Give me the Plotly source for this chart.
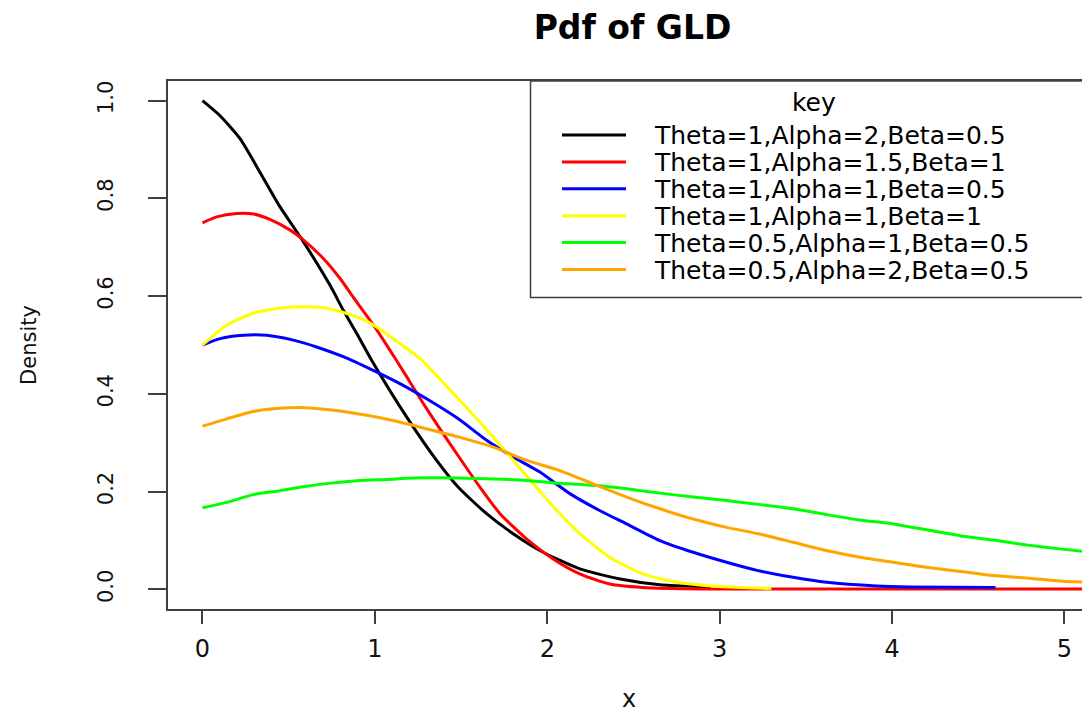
import plotly.graph_objects as go

# ---------------- data ----------------
series_names = [
    "Theta=1,Alpha=2,Beta=0.5",
    "Theta=1,Alpha=1.5,Beta=1",
    "Theta=1,Alpha=1,Beta=0.5",
    "Theta=1,Alpha=1,Beta=1",
    "Theta=0.5,Alpha=1,Beta=0.5",
    "Theta=0.5,Alpha=2,Beta=0.5",
]
series_colors = ["#000000", "#FF0000", "#0000FF", "#FFFF00", "#00FF00", "#FFA500"]

black_x = [0, 0.099, 0.218, 0.334, 0.449, 0.584, 0.74, 0.817, 0.894, 0.981, 1.184, 1.358,
           1.484, 1.648, 1.802, 1.976, 2.189, 2.422, 2.653, 2.885, 2.95]
black_y = [1.0, 0.970, 0.922, 0.853, 0.783, 0.712, 0.622, 0.571, 0.524, 0.469, 0.353, 0.264,
           0.209, 0.155, 0.114, 0.076, 0.042, 0.0215, 0.0098, 0.006, 0.005]

red_x = [0, 0.082, 0.198, 0.295, 0.391, 0.509, 0.585, 0.701, 0.798, 0.894, 0.991, 1.088,
         1.165, 1.30, 1.484, 1.61, 1.726, 1.881, 2.034, 2.188, 2.363, 2.554, 2.9, 5.2]
red_y = [0.750, 0.762, 0.769, 0.768, 0.757, 0.735, 0.715, 0.677, 0.636, 0.588, 0.541, 0.489,
         0.446, 0.370, 0.273, 0.209, 0.155, 0.103, 0.0625, 0.032, 0.011, 0.004, 0.001, 0.001]

blue_x = [0, 0.102, 0.237, 0.372, 0.527, 0.662, 0.817, 0.99, 1.145, 1.30, 1.484, 1.648,
          1.802, 1.957, 2.131, 2.306, 2.46, 2.653, 2.846, 3.04, 3.223, 3.426, 3.62, 3.91,
          4.10, 4.6]
blue_y = [0.500, 0.513, 0.520, 0.520, 0.510, 0.496, 0.476, 0.448, 0.421, 0.390, 0.349, 0.305,
          0.271, 0.240, 0.196, 0.161, 0.134, 0.100, 0.076, 0.0556, 0.0385, 0.0248, 0.0146, 0.007,
          0.005, 0.004]

yellow_x = [0, 0.141, 0.295, 0.449, 0.604, 0.721, 0.894, 1.01, 1.145, 1.262, 1.484, 1.61,
            1.744, 1.881, 2.034, 2.189, 2.363, 2.554, 2.75, 3.0, 3.3]
yellow_y = [0.500, 0.541, 0.565, 0.575, 0.578, 0.575, 0.558, 0.537, 0.503, 0.472, 0.390, 0.342,
            0.288, 0.232, 0.170, 0.114, 0.066, 0.032, 0.0146, 0.006, 0.002]

green_x = [0, 0.141, 0.295, 0.449, 0.604, 0.758, 0.914, 1.068, 1.223, 1.484, 1.687, 1.881,
           2.073, 2.266, 2.46, 2.653, 2.846, 3.04, 3.223, 3.426, 3.62, 3.813, 4.007, 4.2,
           4.394, 4.587, 4.78, 4.973, 5.2]
green_y = [0.167, 0.178, 0.194, 0.202, 0.211, 0.218, 0.223, 0.225, 0.228, 0.228, 0.226, 0.223,
           0.217, 0.213, 0.206, 0.197, 0.189, 0.182, 0.174, 0.165, 0.153, 0.142, 0.134, 0.122,
           0.110, 0.101, 0.091, 0.083, 0.074]

orange_x = [0, 0.141, 0.295, 0.431, 0.565, 0.721, 0.875, 1.03, 1.184, 1.338, 1.484, 1.687,
            1.881, 2.073, 2.266, 2.46, 2.653, 2.846, 3.04, 3.223, 3.426, 3.62, 3.813, 4.007,
            4.2, 4.394, 4.587, 4.78, 5.01, 5.2]
orange_y = [0.334, 0.349, 0.364, 0.370, 0.372, 0.368, 0.361, 0.351, 0.339, 0.325, 0.312, 0.291,
            0.264, 0.243, 0.216, 0.189, 0.165, 0.144, 0.127, 0.114, 0.0965, 0.0795, 0.0658, 0.0556,
            0.0453, 0.0371, 0.0283, 0.0236, 0.016, 0.015]

x_ticks = [0, 1, 2, 3, 4, 5]
y_ticks = [0.0, 0.2, 0.4, 0.6, 0.8, 1.0]
y_tick_labels = ["0.0", "0.2", "0.4", "0.6", "0.8", "1.0"]

title_text = "Pdf of GLD"
x_title = "x"
y_title = "Density"
legend_title = "key"

series_x = [black_x, red_x, blue_x, yellow_x, green_x, orange_x]
series_y = [black_y, red_y, blue_y, yellow_y, green_y, orange_y]

# ---------------- layout geometry ----------------
# The page body has an 8px margin, so the figure is drawn 8px in and 8px down;
# all pixel positions below are reference-page pixels shifted by OFF.
OFF = 8
W, H = 1090 - OFF, 713 - OFF
PL, PR, PT, PB = 168 - OFF, 1090 - OFF, 81 - OFF, 609 - OFF
FONT = "DejaVu Sans"
AXC = "#404040"


def fx(p):
    return (p - OFF - PL) / (PR - PL)


def fy(p):
    return (PB - (p - OFF)) / (PB - PT)


fig = go.Figure()
for xs, ys, nm, col in zip(series_x, series_y, series_names, series_colors):
    fig.add_trace(go.Scatter(x=xs, y=ys, mode="lines", name=nm,
                             line=dict(color=col, width=3, shape="spline", smoothing=0.6),
                             showlegend=False))

# manual key box (R style legend)
shapes = [dict(type="rect", xref="paper", yref="paper",
               x0=fx(530.5), x1=fx(1100), y0=fy(297.5), y1=fy(81),
               line=dict(color=AXC, width=1.5), fillcolor="rgba(0,0,0,0)", layer="above")]
row_y = [135 + 26.9 * i for i in range(6)]
annotations = [dict(text=legend_title, xref="paper", yref="paper", x=fx(814), y=fy(103),
                    xanchor="center", yanchor="middle", showarrow=False,
                    font=dict(family=FONT, size=25, color="#000"))]
for ry, nm, col in zip(row_y, series_names, series_colors):
    shapes.append(dict(type="line", xref="paper", yref="paper", x0=fx(562), x1=fx(626),
                       y0=fy(ry), y1=fy(ry), line=dict(color=col, width=3), layer="above"))
    annotations.append(dict(text=nm, xref="paper", yref="paper", x=fx(652), y=fy(ry + 1),
                            xanchor="left", yanchor="middle", showarrow=False,
                            font=dict(family=FONT, size=25, color="#000")))

fig.update_layout(
    width=W, height=H,
    margin=dict(l=PL, r=W - PR, t=PT, b=H - PB, pad=0),
    paper_bgcolor="white", plot_bgcolor="white",
    title=dict(text=title_text, x=(632.5 - OFF) / W, xref="container", xanchor="center",
               y=1 - (27 - OFF) / H, yref="container", yanchor="middle",
               font=dict(family=FONT, size=33, color="#000", weight="bold")),
    shapes=shapes, annotations=annotations,
    showlegend=False,
)
fig.update_xaxes(
    range=[-0.2, 5.148], tickvals=x_ticks, ticks="outside", ticklen=13, tickwidth=1.5,
    tickcolor=AXC, showline=True, linecolor=AXC, linewidth=1.5, mirror=True,
    showgrid=False, zeroline=False, automargin=False,
    tickfont=dict(family=FONT, size=24, color="#111"), ticklabelstandoff=4,
    title=dict(text=x_title, font=dict(family=FONT, size=24, color="#111"), standoff=55),
)
fig.update_yaxes(
    range=[-0.04, 1.04], tickvals=y_ticks, ticktext=y_tick_labels, ticks="outside",
    ticklen=18, tickwidth=1.5, tickcolor=AXC, showline=True, linecolor=AXC, linewidth=1.5,
    mirror=False, showgrid=False, zeroline=False, automargin=False, tickangle=-90,
    tickfont=dict(family=FONT, size=21, color="#111"), ticklabelstandoff=27,
    title=dict(text=y_title, font=dict(family=FONT, size=21, color="#111"), standoff=51),
)

fig.write_html("out.html")
